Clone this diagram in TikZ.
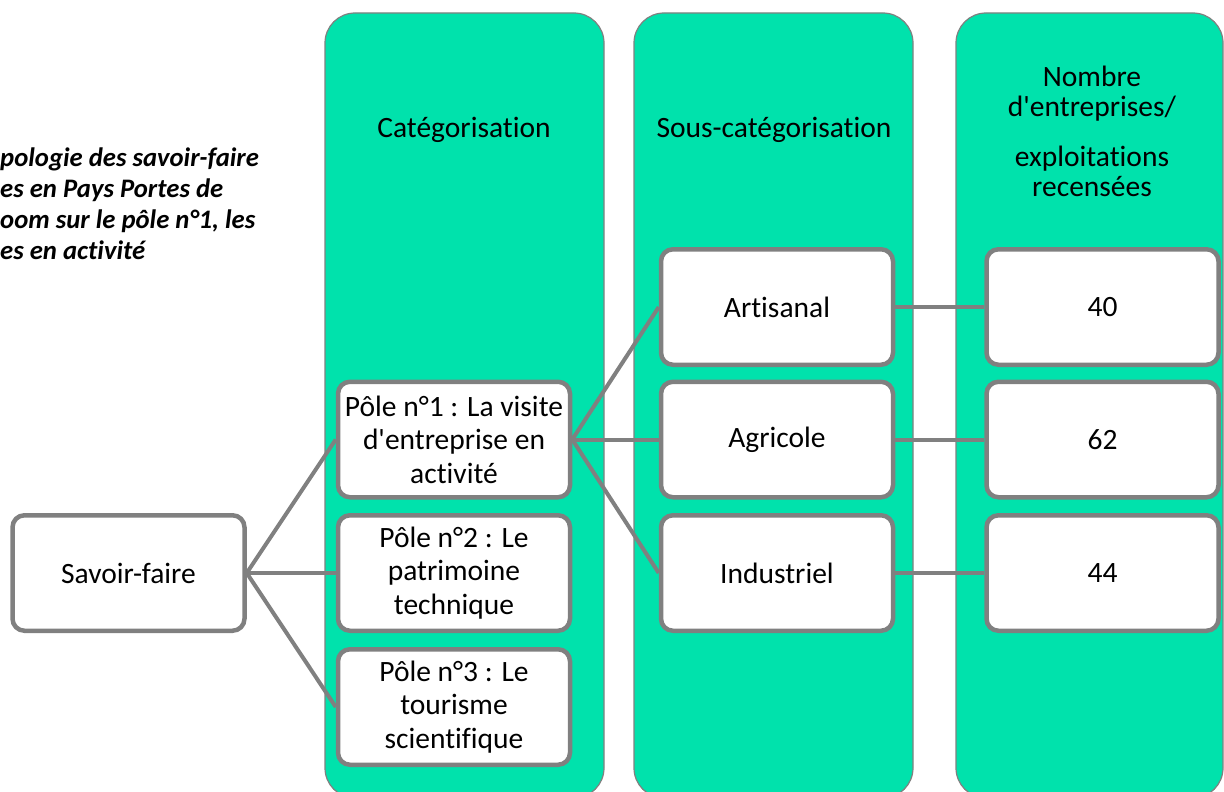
\documentclass[tikz,border=0pt]{standalone}
\usepackage{fontspec}
\setmainfont{Carlito}[Ligatures={NoCommon}]
\usepackage{tikz}

\definecolor{lanegreen}{RGB}{0,226,172}
\definecolor{linegray}{RGB}{128,128,128}

\begin{document}
\begin{tikzpicture}[x=1pt, y=-1pt,
    box/.style={draw=linegray, line width=4.5pt, rounded corners=12pt, fill=white,
        minimum width=232pt, minimum height=115.5pt, inner sep=2pt, align=center,
        font=\fontsize{29.5}{33.5}\selectfont},
    lane/.style={draw=linegray, line width=1.2pt, fill=lanegreen, rounded corners=30pt},
    link/.style={linegray, line width=4pt}]
    \useasboundingbox (0,0) rectangle (1224,792);

    % --- 1. 三個綠色欄位 ---
    \def\laneTop{13}
    \def\laneBot{798}
    \draw[lane] (325,\laneTop) rectangle (604,\laneBot);
    \draw[lane] (634,\laneTop) rectangle (913,\laneBot);
    \draw[lane] (956,\laneTop) rectangle (1223,\laneBot);

    % --- 2. 欄位標題 ---
    \node[font=\fontsize{29.5}{33.5}\selectfont] (head1) at (464,130) {Catégorisation};
    \node[font=\fontsize{29.5}{33.5}\selectfont] (head2) at (774,130) {Sous-catégorisation};
    \node[font=\fontsize{29.5}{30}\selectfont, align=center] (head3) at (1092,131)
        {Nombre\\d\textquotesingle entreprises/\\[20pt]exploitations\\recensées};

    % --- 3. 左上角的標題(被裁切) ---
    \node[anchor=west, inner sep=0pt, align=left,
        font=\fontsize{26.7}{31}\selectfont\bfseries\itshape] (title) at (0,204)
        {pologie des savoir-faire\\es en Pays Portes de\\oom sur le pôle n°1, les\\es en activité};

    % --- 4. 方框 ---
    \node[box] (savoir) at (128.5,573) {Savoir-faire};
    \node[box] (pole1) at (454,439.5) {Pôle n°1 : La visite\\d\textquotesingle entreprise en\\activité};
    \node[box] (pole2) at (454,573) {Pôle n°2 : Le\\patrimoine\\technique};
    \node[box] (pole3) at (454,707) {Pôle n°3 : Le\\tourisme\\scientifique};
    \node[box] (artisanal) at (777,307) {Artisanal};
    \node[box] (agricole) at (777,439.5) {Agricole};
    \node[box] (industriel) at (777,573) {Industriel};
    \node[box] (n40) at (1102.5,307) {40};
    \node[box] (n62) at (1102.5,439.5) {62};
    \node[box] (n44) at (1102.5,573) {44};

    % --- 5. 連線 ---
    \draw[link] (savoir.east) -- (pole1.west);
    \draw[link] (savoir.east) -- (pole2.west);
    \draw[link] (savoir.east) -- (pole3.west);
    \draw[link] (pole1.east) -- (artisanal.west);
    \draw[link] (pole1.east) -- (agricole.west);
    \draw[link] (pole1.east) -- (industriel.west);
    \draw[link] (artisanal.east) -- (n40.west);
    \draw[link] (agricole.east) -- (n62.west);
    \draw[link] (industriel.east) -- (n44.west);

\end{tikzpicture}
\end{document}
